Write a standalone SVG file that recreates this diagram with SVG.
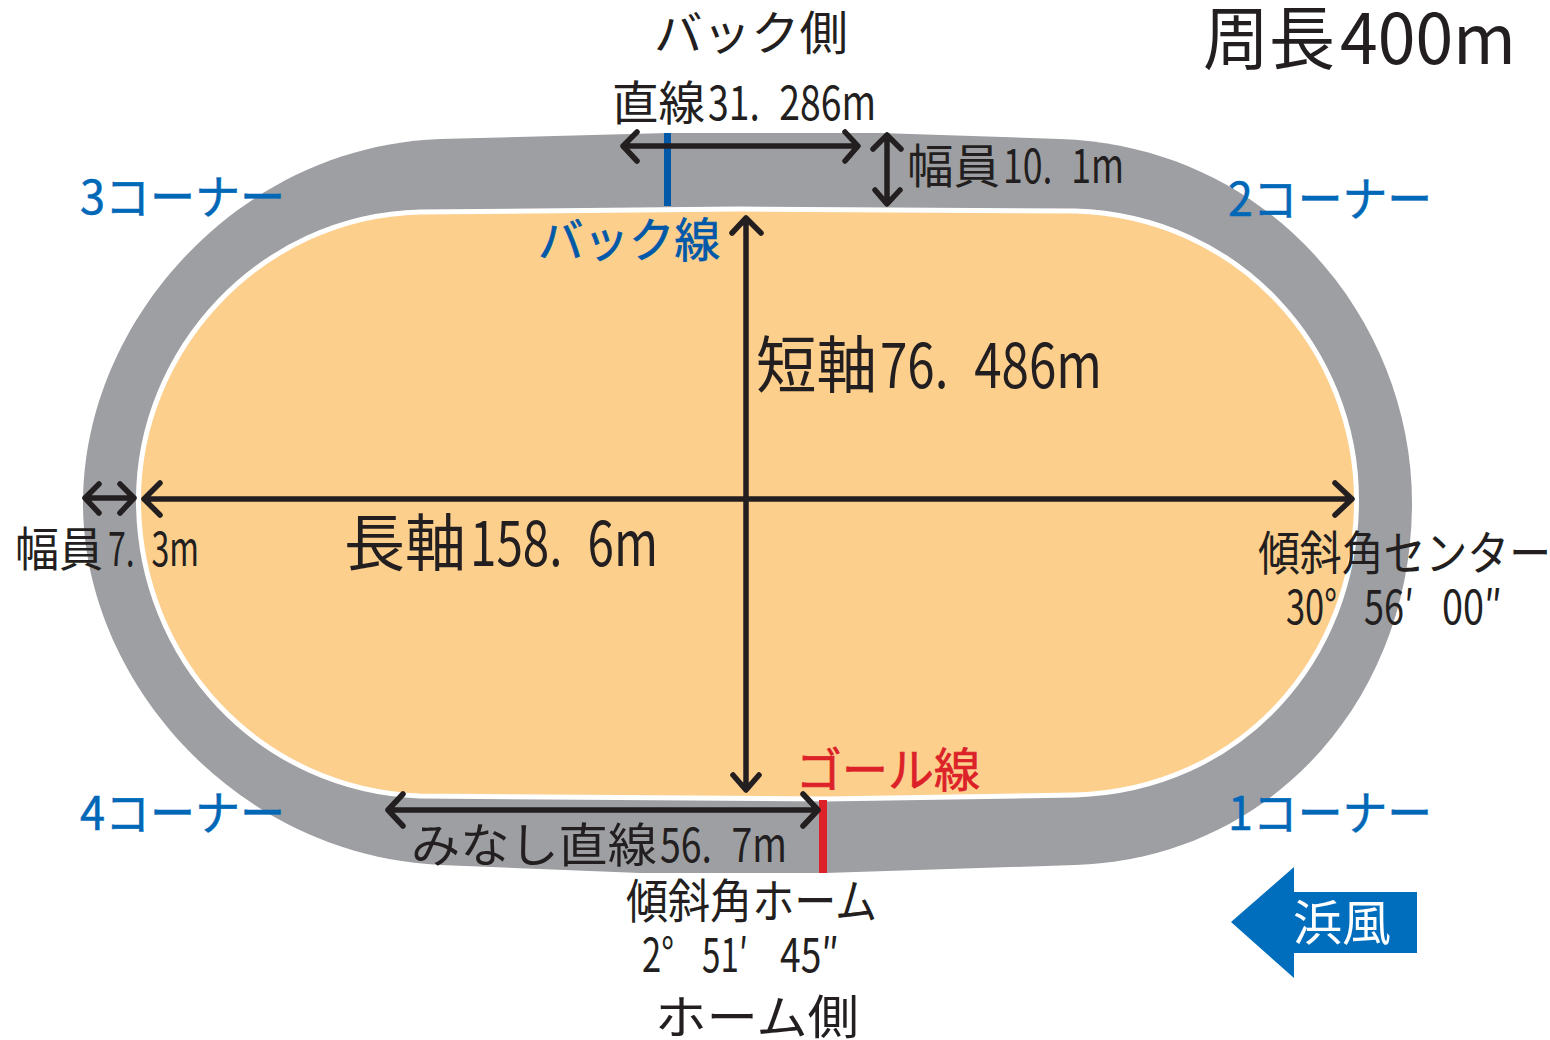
<svg xmlns="http://www.w3.org/2000/svg" width="1550" height="1040" viewBox="0 0 1550 1040">
<style>
text{font-family:"Noto Sans CJK JP","Noto Sans",sans-serif;fill:#231f20;font-weight:400;font-size:47px}
.b{fill:#0068b7;stroke:#0068b7;stroke-width:.5}.r{fill:#dc2128;stroke:#dc2128;stroke-width:.7}.bb{fill:#0058a8;stroke:#0058a8;stroke-width:.7}.l{font-size:62px}
.d{word-spacing:.3em}
.a{fill:none;stroke:#231f20;stroke-width:5.5;stroke-linecap:round;stroke-linejoin:round}
</style>
<g id="track">
<path fill="#9e9fa3" d="M440 139L668 133L880 133L1060 139C1270 146 1412 320 1412 503C1412 695 1275 858 1075 865L825 873L640 873L440 865C235 855 83 680 83 503C83 320 240 146 440 139Z"/>
<path fill="#fccf8d" stroke="#fff" stroke-width="5" d="M420 212L740 209L1075 211C1240 216 1356.500 350 1356.500 500C1356.500 660 1240 790 1075 795L825 799L420 796C260 790 138.500 660 138.500 500C138.500 350 260 216 420 212Z"/>
</g>
<g id="lines">
<rect x="664" y="133" width="7" height="73" fill="#0058a8"/>
<rect x="819" y="800" width="8" height="73" fill="#dc2128"/>
</g>
<g id="connectors">
<path class="a" d="M624 146H857M637 132L623 146L637 161M845 132L858 146L845 161"/>
<path class="a" d="M887 136V203M873 149L887 135L901 149M875 190L887 204L900 190"/>
<path class="a" d="M746 218V789M732 233L746 218L761 233M733 775L746 790L759 775"/>
<path class="a" d="M144 499H1351M160 483L144 499L160 515M1335 483L1352 499L1335 515"/>
<path class="a" d="M85 498H134M99 484L85 498L99 513M120 484L134 498L120 513"/>
<path class="a" d="M388 810H818M403 794L388 810L403 826M803 794L818 810L803 826"/>
</g>
<g id="labels">
<text x="654" y="50" textLength="194" lengthAdjust="spacingAndGlyphs">バック側</text>
<text y="64" style="font-size:69px"><tspan x="1203" textLength="132" lengthAdjust="spacingAndGlyphs">周長</tspan><tspan x="1340" textLength="176" lengthAdjust="spacingAndGlyphs">400m</tspan></text>
<text y="120"><tspan x="612" textLength="93" lengthAdjust="spacingAndGlyphs">直線</tspan><tspan class="d" x="708" textLength="168" lengthAdjust="spacingAndGlyphs">31. 286m</tspan></text>
<text y="183"><tspan x="907" textLength="93" lengthAdjust="spacingAndGlyphs">幅員</tspan><tspan class="d" x="1003" textLength="121" lengthAdjust="spacingAndGlyphs">10. 1m</tspan></text>
<text class="bb" x="538" y="257" textLength="182" lengthAdjust="spacingAndGlyphs">バック線</text>
<text class="l" y="388"><tspan x="756" textLength="121" lengthAdjust="spacingAndGlyphs">短軸</tspan><tspan class="d" x="880" textLength="222" lengthAdjust="spacingAndGlyphs">76. 486m</tspan></text>
<text class="l" y="566"><tspan x="344" textLength="122" lengthAdjust="spacingAndGlyphs">長軸</tspan><tspan class="d" x="470" textLength="188" lengthAdjust="spacingAndGlyphs">158. 6m</tspan></text>
<text y="566"><tspan x="15" textLength="88" lengthAdjust="spacingAndGlyphs">幅員</tspan><tspan class="d" x="108" textLength="91" lengthAdjust="spacingAndGlyphs">7. 3m</tspan></text>
<text x="1258" y="570" textLength="293" lengthAdjust="spacingAndGlyphs">傾斜角センター</text>
<text y="624"><tspan x="1286" textLength="51" lengthAdjust="spacingAndGlyphs">30°</tspan> <tspan x="1364" textLength="50" lengthAdjust="spacingAndGlyphs">56′</tspan> <tspan x="1442" textLength="60" lengthAdjust="spacingAndGlyphs">00″</tspan></text>
<text class="b" x="80" y="214" textLength="205" lengthAdjust="spacingAndGlyphs">3コーナー</text>
<text class="b" x="1228" y="216" textLength="204" lengthAdjust="spacingAndGlyphs">2コーナー</text>
<text class="b" x="80" y="830" textLength="205" lengthAdjust="spacingAndGlyphs">4コーナー</text>
<text class="b" x="1228" y="830" textLength="204" lengthAdjust="spacingAndGlyphs">1コーナー</text>
<text class="r" x="796" y="787" textLength="184" lengthAdjust="spacingAndGlyphs">ゴール線</text>
<text y="862"><tspan x="411" textLength="246" lengthAdjust="spacingAndGlyphs">みなし直線</tspan><tspan class="d" x="660" textLength="127" lengthAdjust="spacingAndGlyphs">56. 7m</tspan></text>
<text x="626" y="918" textLength="251" lengthAdjust="spacingAndGlyphs">傾斜角ホーム</text>
<text y="972"><tspan x="642" textLength="32" lengthAdjust="spacingAndGlyphs">2°</tspan> <tspan x="702" textLength="46" lengthAdjust="spacingAndGlyphs">51′</tspan> <tspan x="780" textLength="59" lengthAdjust="spacingAndGlyphs">45″</tspan></text>
<text x="655" y="1034" textLength="204" lengthAdjust="spacingAndGlyphs">ホーム側</text>
</g>
<g id="wind">
<path fill="#006ebc" d="M1231 922L1294 867V892H1417V953H1294V978Z"/>
<text x="1293" y="940" style="fill:#fff;font-size:48px" textLength="98" lengthAdjust="spacingAndGlyphs">浜風</text>
</g>
</svg>
